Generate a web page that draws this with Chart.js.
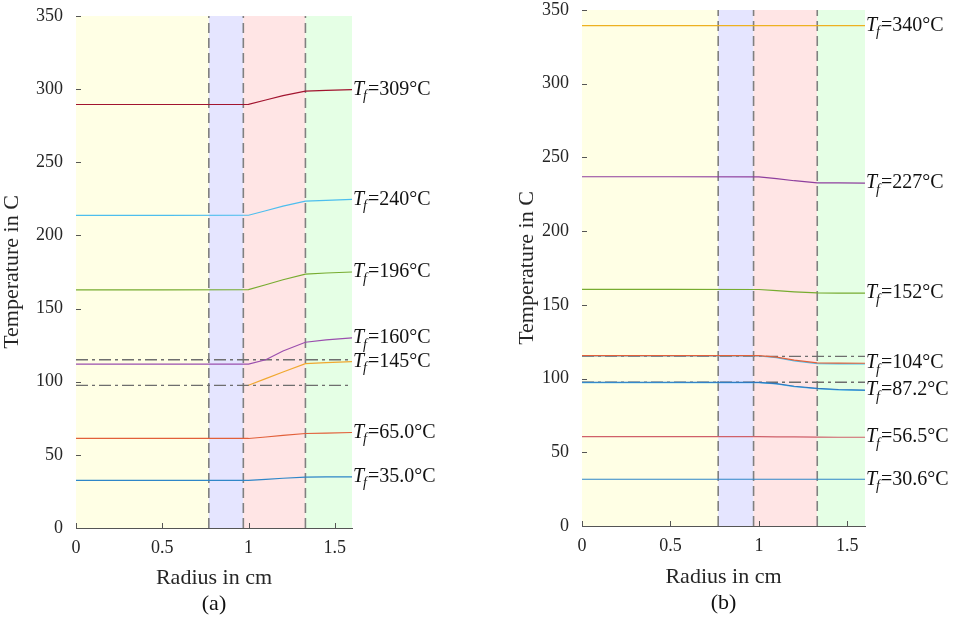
<!DOCTYPE html>
<html>
<head>
<meta charset="utf-8">
<script src="https://cdn.jsdelivr.net/npm/chart.js@4.4.0/dist/chart.umd.min.js"></script>
<style>
    html, body { margin: 0; padding: 0; background: #fff; }
    .panel { position: absolute; top: 0; width: 478px; height: 619px; }
    #panel-a { left: 0; }
    #panel-b { left: 478px; }
</style>
</head>
<body>
<div class="panel" id="panel-a"><canvas id="chart-a"></canvas></div>
<div class="panel" id="panel-b"><canvas id="chart-b"></canvas></div>
<script>
// shared axes
const radius = [0, 0.5, 1.0, 1.1, 1.2, 1.33, 1.45, 1.6];
const xTicks = [0, 0.5, 1, 1.5];
const yTicks = [0, 50, 100, 150, 200, 250, 300, 350];
const zoneEdges = [0, 0.77, 0.97, 1.33, 1.6];
const zoneColors = ['#ffffe5', '#e5e5ff', '#ffe5e5', '#e5ffe5'];
const guideTemps = [115, 97.5];

// panel (a) - temperatures in C along the radius
const tfLabelsA = ['309', '240', '196', '160', '145', '65.0', '35.0'];
const tempA309 = [289.5, 289.5, 289.6, 292.6, 295.6, 298.6, 299.2, 299.7];
const tempA240 = [213.7, 213.7, 213.8, 216.9, 220.0, 223.5, 224.0, 224.6];
const tempA196 = [162.8, 162.8, 162.9, 166.3, 169.7, 173.6, 174.3, 175.0];
const tempA160 = [112.0, 112.0, 112.0, 115.0, 121.0, 127.0, 128.6, 130.0];
const tempA145 = [null, null, 97.6, 102.1, 106.6, 112.4, 113.0, 113.7];
const tempA65 = [61.2, 61.2, 61.2, 62.2, 63.3, 64.6, 64.9, 65.3];
const tempA35 = [32.5, 32.5, 32.5, 33.3, 34.0, 34.8, 34.9, 35.0];

// panel (b)
const tfLabelsB = ['340', '227', '152', '104', '87.2', '56.5', '30.6'];
const tempB340 = [339.4, 339.4, 339.4, 339.4, 339.4, 339.4, 339.4, 339.4];
const tempB227 = [236.9, 236.9, 236.8, 235.6, 234.2, 232.8, 232.7, 232.6];
const tempB152 = [160.5, 160.5, 160.4, 159.6, 158.8, 158.1, 158.0, 158.0];
const tempB104 = [115.6, 115.6, 115.5, 114.6, 112.5, 110.6, 110.5, 110.4];
const tempB104b = [115.4, 115.4, 115.3, 114.2, 112.0, 110.1, 110.0, 109.9];
const tempB87 = [97.5, 97.5, 97.4, 96.6, 94.8, 93.4, 92.6, 92.2];
const tempB87b = [97.3, 97.3, 97.2, 96.3, 94.5, 93.1, 92.3, 91.9];
const tempB56 = [60.6, 60.6, 60.6, 60.5, 60.4, 60.3, 60.2, 60.2];
const tempB30 = [31.7, 31.7, 31.7, 31.7, 31.7, 31.7, 31.7, 31.7];

const SERIF = '"Liberation Serif", "Times New Roman", serif';

const seriesA = [
    { tf: tfLabelsA[0], values: tempA309, color: '#a2142f' },
    { tf: tfLabelsA[1], values: tempA240, color: '#4dbeee' },
    { tf: tfLabelsA[2], values: tempA196, color: '#77ac30' },
    { tf: tfLabelsA[3], values: tempA160, color: '#9b4fae' },
    { tf: tfLabelsA[4], values: tempA145, color: '#f0a830' },
    { tf: tfLabelsA[5], values: tempA65, color: '#e2603a' },
    { tf: tfLabelsA[6], values: tempA35, color: '#2e86c8' }
];

const seriesB = [
    { tf: tfLabelsB[0], values: tempB340, color: '#edb120' },
    { tf: tfLabelsB[1], values: tempB227, color: '#8e3f9e' },
    { tf: tfLabelsB[2], values: tempB152, color: '#77ac30' },
    { tf: tfLabelsB[3], values: tempB104, color: '#e2603a' },
    { tf: null, values: tempB104b, color: '#4dbeee' },
    { tf: tfLabelsB[4], values: tempB87, color: '#2e78c0' },
    { tf: null, values: tempB87b, color: '#4dbeee' },
    { tf: tfLabelsB[5], values: tempB56, color: '#d0606a' },
    { tf: tfLabelsB[6], values: tempB30, color: '#2e86c8' }
];

function toPoints(values) {
    return radius.map((r, i) => ({ x: r, y: values[i] }));
}

function buildDatasets(series) {
    const sets = series.map(s => ({
        data: toPoints(s.values),
        borderColor: s.color,
        borderWidth: 1.2,
        pointRadius: 0,
        tension: 0
    }));
    // dash-dot reference temperatures
    guideTemps.forEach(t => sets.push({
        data: [{ x: zoneEdges[0], y: t }, { x: zoneEdges[zoneEdges.length - 1], y: t }],
        borderColor: '#6e6e6e',
        borderWidth: 1.3,
        borderDash: [12, 4, 3, 4],
        pointRadius: 0
    }));
    // dashed layer boundaries
    zoneEdges.slice(1, -1).forEach(e => sets.push({
        data: [{ x: e, y: yTicks[0] }, { x: e, y: yTicks[yTicks.length - 1] }],
        borderColor: '#808080',
        borderWidth: 1.6,
        borderDash: [10, 5],
        pointRadius: 0
    }));
    return sets;
}

const zonePlugin = {
    id: 'zones',
    beforeDatasetsDraw(chart) {
        const { ctx, chartArea, scales: { x } } = chart;
        ctx.save();
        zoneColors.forEach((c, i) => {
            const x0 = x.getPixelForValue(zoneEdges[i]);
            const x1 = x.getPixelForValue(zoneEdges[i + 1]);
            ctx.fillStyle = c;
            ctx.fillRect(x0, chartArea.top, x1 - x0, chartArea.bottom - chartArea.top);
        });
        ctx.restore();
    }
};

// inward tick marks on left and bottom axes
const tickPlugin = {
    id: 'inTicks',
    afterDatasetsDraw(chart) {
        const { ctx, chartArea, scales: { x, y } } = chart;
        ctx.save();
        ctx.strokeStyle = '#555';
        ctx.lineWidth = 1;
        ctx.beginPath();
        xTicks.forEach(v => {
            const px = Math.round(x.getPixelForValue(v)) + 0.5;
            ctx.moveTo(px, chartArea.bottom);
            ctx.lineTo(px, chartArea.bottom - 5);
        });
        yTicks.forEach(v => {
            const py = Math.round(y.getPixelForValue(v)) + 0.5;
            ctx.moveTo(chartArea.left, py);
            ctx.lineTo(chartArea.left + 5, py);
        });
        ctx.stroke();
        ctx.restore();
    }
};

function drawTfLabel(ctx, x, y, text) {
    ctx.textBaseline = 'middle';
    ctx.textAlign = 'left';
    ctx.fillStyle = '#111';
    ctx.font = `italic 20px ${SERIF}`;
    ctx.fillText('T', x, y);
    x += ctx.measureText('T').width - 1;
    ctx.font = `italic 14px ${SERIF}`;
    ctx.fillText('f', x, y + 7);
    x += ctx.measureText('f').width + 1;
    ctx.font = `20px ${SERIF}`;
    ctx.fillText('=' + text + '°C', x, y);
}

function makeEndLabels(series, caption, captionY) {
    return {
        id: 'endLabels',
        afterDraw(chart) {
            const { ctx, chartArea, scales: { x, y } } = chart;
            ctx.save();
            const xEnd = x.getPixelForValue(radius[radius.length - 1]) + 1;
            series.forEach(s => {
                if (!s.tf) return;
                drawTfLabel(ctx, xEnd, y.getPixelForValue(s.values[s.values.length - 1]), s.tf);
            });
            ctx.font = `22px ${SERIF}`;
            ctx.textAlign = 'center';
            ctx.textBaseline = 'middle';
            ctx.fillStyle = '#111';
            ctx.fillText(caption, (chartArea.left + chartArea.right) / 2, captionY);
            ctx.restore();
        }
    };
}

function createPanel(canvasId, series, cfg) {
    const ctx = document.getElementById(canvasId);
    return new Chart(ctx, {
        type: 'line',
        data: { datasets: buildDatasets(series) },
        options: {
            responsive: true,
            maintainAspectRatio: false,
            animation: false,
            layout: { padding: { left: cfg.padLeft, right: cfg.padRight, top: cfg.padTop, bottom: 0 } },
            plugins: { legend: { display: false }, tooltip: { enabled: false } },
            scales: {
                x: {
                    type: 'linear',
                    min: zoneEdges[0],
                    max: zoneEdges[zoneEdges.length - 1],
                    afterBuildTicks: s => { s.ticks = xTicks.map(v => ({ value: v })); },
                    afterFit: s => { s.height = cfg.xHeight; s.paddingLeft = 0; s.paddingRight = 0; },
                    grid: { display: false, drawTicks: false },
                    border: { display: true, color: '#555', width: 1 },
                    ticks: {
                        padding: 9, color: '#262626', font: { family: SERIF, size: 18 },
                        callback: v => String(v)
                    },
                    title: {
                        display: true, text: 'Radius in cm', color: '#262626',
                        font: { family: SERIF, size: 22, lineHeight: 1 },
                        padding: { top: 0, bottom: cfg.xTitlePad }
                    }
                },
                y: {
                    type: 'linear',
                    min: yTicks[0],
                    max: yTicks[yTicks.length - 1],
                    afterBuildTicks: s => { s.ticks = yTicks.map(v => ({ value: v })); },
                    afterFit: s => { s.width = cfg.yWidth; s.paddingTop = 0; s.paddingBottom = 0; },
                    grid: { display: false, drawTicks: false },
                    border: { display: true, color: '#555', width: 1 },
                    ticks: { padding: 13, color: '#262626', font: { family: SERIF, size: 18 } },
                    title: {
                        display: true, text: 'Temperature in C', color: '#262626',
                        font: { family: SERIF, size: 22, lineHeight: 1 },
                        padding: { top: 1, bottom: 0 }
                    }
                }
            }
        },
        plugins: [zonePlugin, tickPlugin, makeEndLabels(series, cfg.caption, cfg.captionY)]
    });
}

createPanel('chart-a', seriesA, {
    padLeft: 0, padRight: 126, padTop: 16, yWidth: 76, xHeight: 91, xTitlePad: 30,
    caption: '(a)', captionY: 604
});
createPanel('chart-b', seriesB, {
    padLeft: 37, padRight: 91, padTop: 10, yWidth: 67, xHeight: 93, xTitlePad: 31,
    caption: '(b)', captionY: 603
});
</script>
</body>
</html>
